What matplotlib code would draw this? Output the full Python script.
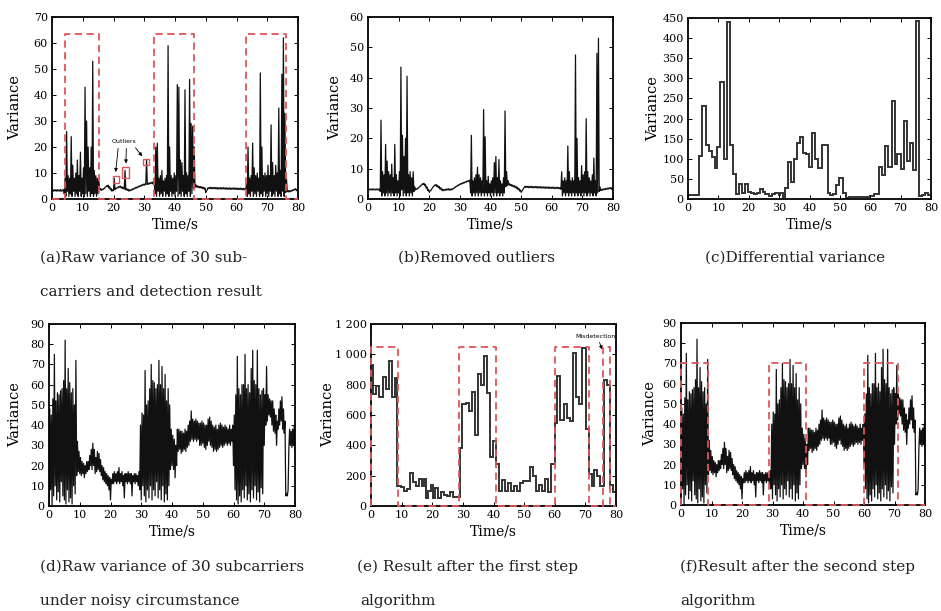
import matplotlib.pyplot as plt
import numpy as np
from matplotlib.patches import Rectangle

plt.rcParams['font.family'] = 'DejaVu Serif'

# ---- data ----
# (a) raw variance, low / high value every 0.5 s (0 ... 80 s)
lo_a = [3.0, 3.0, 3.1, 3.0, 3.1, 3.0, 3.0, 3.1, 2.0, 1.0,
        3, 1, 2, 1, 3, 1, 2, 1, 3, 1,
        2, 1, 2, 1, 3, 1, 2, 1, 2, 1,
        2, 3.5, 3.3, 3.5, 4.0, 4.6, 4.8, 4.2, 3.5, 3.0,
        3.2, 3.6, 4.0, 4.3, 4.5, 4.2, 4.0, 3.8, 3.5, 3.3,
        3.0, 3.2, 3.4, 3.7, 4.0, 4.2, 4.5, 4.7, 5.0, 5.2,
        5.3, 5.5, 5.6, 5.7, 5.9, 6.0, 5.5, 2, 1, 3,
        1, 2, 1, 3, 1, 2, 1, 3, 1, 2,
        1, 3, 1, 2, 1, 3, 1, 2, 1, 3,
        1, 2, 4, 4.5, 4.6, 4.4, 4.3, 4.2, 4.0, 3.8,
        2.5, 3.5, 4.0, 4.0, 3.9, 4.0, 3.9, 3.9, 3.8, 3.9,
        3.8, 3.9, 3.8, 3.8, 3.7, 3.8, 3.7, 3.7, 3.8, 3.7,
        3.7, 3.6, 3.7, 3.6, 3.6, 3.5, 3.5, 1, 2, 1,
        3, 1, 2, 1, 3, 1, 2, 1, 3, 1,
        2, 1, 3, 1, 2, 1, 3, 1, 2, 1,
        3, 1, 2.5, 2.8, 2.7, 2.8, 3.0, 3.3, 3.5, 3.2,
        3.0]
hi_a = [3.5, 3.6, 3.5, 3.6, 3.5, 3.6, 3.5, 3.6, 8, 26,
        9, 8, 24, 13, 8, 10, 15, 9, 18, 8,
        12, 43, 30, 20, 12, 20, 53, 11, 9, 8,
        7, 4.0, 3.8, 4.0, 4.5, 5.1, 5.3, 4.7, 4.0, 3.5,
        8, 4.1, 4.5, 4.8, 5.0, 4.7, 4.5, 11, 4.0, 3.8,
        3.5, 3.7, 3.9, 4.2, 4.5, 4.7, 5.0, 5.2, 5.5, 5.7,
        5.8, 15, 6.1, 6.2, 6.4, 6.5, 8, 20, 21.5, 8,
        9, 11, 7, 8, 9, 59, 20, 9, 8, 10,
        9, 44, 43, 15, 14, 9, 42, 10, 9, 46,
        29, 28, 20, 5.5, 5.1, 4.9, 4.8, 4.7, 4.5, 4.3,
        3.3, 4.3, 4.5, 4.5, 4.4, 4.5, 4.4, 4.4, 4.3, 4.4,
        4.3, 4.4, 4.3, 4.3, 4.2, 4.3, 4.2, 4.2, 4.3, 4.2,
        4.2, 4.1, 4.2, 4.1, 4.1, 4.0, 6, 20, 8, 9,
        21.5, 12, 9, 10, 8, 48.5, 20, 9, 10, 9,
        13, 9, 28.5, 14, 9, 13, 10, 35, 11, 48,
        62, 33, 8, 3.3, 3.2, 3.3, 3.5, 3.8, 4.0, 3.7,
        3.5]

# (b) after removing outliers
lo_b = [3.0, 3.0, 3.0, 3.0, 3.0, 3.0, 3.0, 3.0, 2.5, 1,
        2, 1, 2, 1, 2, 1, 2, 1, 2, 1,
        2, 1, 3, 1, 2, 1, 2, 1, 2, 1,
        2.5, 3.0, 3.2, 3.6, 4.1, 4.6, 4.8, 4.4, 3.6, 2.8,
        2.2, 2.8, 3.6, 4.2, 4.4, 4.1, 3.7, 3.3, 2.9, 2.7,
        2.8, 2.9, 3.0, 2.9, 2.9, 3.1, 3.4, 3.8, 4.1, 4.4,
        4.7, 4.9, 5.1, 5.3, 5.5, 5.7, 5.8, 2, 1, 2,
        1, 2, 1, 2, 1, 2, 1, 2, 1, 2,
        1, 2, 1, 2, 1, 2, 1, 2, 1, 2,
        4, 4.5, 4.6, 4.4, 4.2, 4.0, 3.8, 3.5, 3.1, 2.6,
        2.2, 3.0, 3.8, 3.8, 3.8, 3.7, 3.8, 3.7, 3.7, 3.7,
        3.7, 3.6, 3.7, 3.6, 3.6, 3.6, 3.5, 3.6, 3.5, 3.5,
        3.5, 3.5, 3.4, 3.5, 3.4, 3.4, 3.2, 1, 2, 1,
        2, 1, 2, 1, 2, 1, 2, 1, 2, 1,
        2, 1, 2, 1, 2, 1, 2, 1, 2, 1,
        2, 2.5, 2.8, 2.9, 3.0, 3.1, 3.2, 3.3, 3.4, 3.2,
        3.0]
hi_b = [3.3, 3.3, 3.3, 3.3, 3.3, 3.3, 3.3, 3.3, 26, 9,
        8, 18, 12.5, 9, 8, 11.5, 7, 18, 8, 6,
        9, 43.5, 21, 14, 20, 40.5, 8, 9, 7, 9,
        4, 3.4, 3.6, 4.0, 4.5, 5.0, 5.2, 4.8, 4.0, 3.2,
        2.6, 3.2, 4.0, 4.6, 4.8, 4.5, 4.1, 3.7, 3.3, 3.1,
        3.2, 3.3, 3.4, 3.3, 3.3, 3.5, 3.8, 4.2, 4.5, 4.8,
        5.1, 5.3, 5.5, 5.7, 5.9, 6.1, 6.2, 21, 6, 7,
        8, 10.5, 8, 7, 6, 29.5, 20.5, 6, 7.5, 5,
        6, 7, 12, 14, 7, 13, 6, 5, 7, 29,
        9, 6, 5.0, 4.8, 4.6, 4.4, 4.2, 3.9, 3.5, 3.0,
        2.6, 3.4, 4.2, 4.2, 4.2, 4.1, 4.2, 4.1, 4.1, 4.1,
        4.1, 4.0, 4.1, 4.0, 4.0, 4.0, 3.9, 4.0, 3.9, 3.9,
        3.9, 3.9, 3.8, 3.9, 3.8, 3.8, 9, 6, 7, 6,
        17.5, 9, 6, 7, 6, 47.5, 20, 7, 6, 11,
        8, 9, 26.5, 9, 7, 6, 8, 13.5, 6, 48,
        53, 4, 3.2, 3.3, 3.4, 3.5, 3.6, 3.7, 3.8, 3.6,
        3.4]

# (c) differential variance (step values between edges)
edges_c = [0, 3.7, 4.7, 5.9, 6.9, 7.9, 9.0, 9.7, 10.6, 11.9,
           12.8, 13.9, 14.8, 15.8, 16.7, 17.9, 18.8, 19.8, 20.6, 21.8,
           22.8, 23.8, 24.8, 25.5, 26.8, 27.7, 28.8, 29.9, 30.4, 31.3,
           32.0, 32.9, 33.9, 34.9, 35.9, 36.8, 37.8, 38.7, 39.8, 40.8,
           41.9, 42.8, 44.1, 46.0, 46.9, 47.8, 48.8, 49.8, 50.9, 51.9,
           52.9, 58.9, 60.0, 61.1, 62.9, 64.0, 65.0, 66.0, 67.0, 68.0,
           68.9, 70.0, 71.0, 72.0, 73.1, 74.1, 75.1, 76.1, 77.1, 77.9,
           78.9, 80]
vals_c = [10, 108, 230, 135, 120, 105, 77, 130, 290, 100,
          440, 135, 63, 12, 38, 15, 38, 18, 14, 12,
          15, 25, 18, 12, 8, 12, 14, 10, 15, 5,
          28, 92, 42, 100, 140, 155, 115, 113, 80, 165,
          100, 78, 135, 15, 10, 12, 35, 52, 15, 3,
          5, 6, 8, 12, 80, 60, 133, 80, 243, 88,
          113, 75, 193, 95, 138, 73, 442, 8, 10, 16,
          10]

# (d)/(f) raw variance under noise, low / high every 0.5 s
lo_d = [2, 8, 0.5, 5, 10, 3, 7, 2, 12, 5,
        3, 1, 8, 2, 4, 1, 10, 6, 15, 17,
        16, 15, 16, 14, 16, 17, 18, 20, 18, 20,
        16, 17, 18, 17, 15, 13, 12, 11, 10, 8,
        3, 11, 11, 12, 11, 12, 11, 12, 10, 4,
        12, 11, 12, 11, 5, 12, 11, 12, 10, 8,
        3, 10, 5, 2, 8, 4, 10, 3, 8, 5,
        12, 4, 8, 3, 10, 2, 6, 3, 10, 18,
        20, 18, 14, 20, 27, 28, 26, 27, 28, 27,
        29, 30, 32, 33, 32, 33, 32, 33, 30, 30,
        31, 29, 28, 30, 32, 30, 29, 27, 28, 27,
        28, 29, 30, 29, 30, 31, 30, 31, 30, 32,
        20, 8, 3, 1, 5, 2, 8, 4, 10, 3,
        6, 2, 8, 4, 10, 3, 7, 2, 9, 6,
        30, 40, 42, 45, 44, 40, 37, 36, 30, 38,
        40, 42, 38, 36, 5, 5, 28, 30, 29, 30,
        28]
hi_d = [48, 45, 53, 75, 52, 56, 55, 57, 58, 62,
        82, 58, 68, 61, 56, 58, 50, 72, 32, 27,
        24, 22, 21, 20, 22, 22, 25, 28, 31, 28,
        24, 27, 26, 23, 20, 19, 17, 16, 15, 14,
        13, 16, 17, 16, 17, 19, 16, 17, 15, 16,
        16, 17, 16, 16, 15, 16, 16, 15, 17, 40,
        46, 45, 67, 50, 52, 58, 70, 62, 61, 58,
        60, 72, 60, 69, 58, 65, 52, 58, 50, 38,
        35, 33, 30, 38, 38, 37, 37, 36, 38, 37,
        40, 42, 47, 43, 42, 43, 42, 41, 41, 42,
        41, 40, 40, 43, 44, 42, 40, 39, 40, 38,
        40, 41, 40, 39, 40, 39, 38, 40, 38, 40,
        45, 55, 74, 58, 55, 60, 60, 75, 58, 60,
        56, 68, 77, 62, 60, 77, 58, 55, 57, 58,
        55, 69, 55, 53, 52, 52, 48, 45, 42, 48,
        52, 54, 48, 42, 6, 8, 38, 37, 38, 40,
        37]

# (e) result after first step
edges_e = [0, 0.65, 1.7, 2.7, 3.8, 4.9, 6.0, 7.0, 7.9, 8.6,
           9.7, 10.8, 11.6, 12.7, 13.7, 14.7, 15.7, 16.5, 17.2, 17.8,
           18.7, 19.5, 20.2, 21.0, 21.9, 22.7, 23.8, 24.9, 25.9, 26.9,
           28.9, 29.6, 31.0, 31.9, 32.9, 33.8, 34.8, 35.8, 36.8, 37.9,
           38.9, 39.7, 40.7, 41.7, 42.8, 43.7, 44.7, 45.7, 46.8, 47.7,
           48.6, 49.7, 51.9, 53.0, 53.9, 54.8, 55.8, 56.9, 57.8, 58.9,
           60.1, 60.7, 61.7, 62.9, 63.9, 65.0, 66.1, 66.9, 67.9, 69.0,
           70.1, 71.1, 72.1, 72.7, 73.9, 74.7, 76.2, 77.0, 78.0, 78.9,
           80]
vals_e = [930, 740, 790, 720, 850, 770, 955, 720, 845, 130,
          125, 100, 110, 220, 160, 135, 180, 130, 175, 50,
          100, 140, 50, 120, 50, 90, 75, 65, 90, 60,
          380, 670, 680, 625, 750, 470, 870, 800, 990, 745,
          320, 430, 280, 100, 170, 100, 150, 100, 130, 100,
          150, 165, 260, 200, 100, 140, 100, 175, 95, 280,
          550, 860, 570, 670, 580, 560, 1010, 720, 670, 1040,
          505, 210, 130, 240, 200, 130, 830, 800, 140, 90]

# detection windows (start, end) and box heights
det_a = [(4.3, 15.3), (33.2, 46.3), (63.1, 76.0)]
det_e = [(0, 8.8), (28.8, 40.7), (60.0, 71.2), (75.8, 78.0)]
det_f = [(0, 8.7), (28.9, 40.9), (59.9, 71.1)]
lvl_a, lvl_e, lvl_f = 63.4, 1050, 70

outlier_boxes = [(19.7, 6.3, 2.1, 2.7), (22.9, 7.9, 2.1, 4.3), (29.5, 12.9, 1.9, 2.5)]
outlier_arrows = [((21.6, 20.5), (20.6, 9.3)), ((24.2, 20.5), (24.0, 12.6)),
                  ((26.6, 20.5), (29.9, 15.6))]

captions = [
    (40, 258, '(a)Raw variance of 30 sub-'),
    (40, 292, 'carriers and detection result'),
    (398, 258, '(b)Removed outliers'),
    (705, 258, '(c)Differential variance'),
    (40, 567, '(d)Raw variance of 30 subcarriers'),
    (40, 601, 'under noisy circumstance'),
    (357, 567, '(e) Result after the first step'),
    (360, 601, 'algorithm'),
    (680, 567, '(f)Result after the second step'),
    (680, 601, 'algorithm'),
]

W, H = 941, 611
RED = '#e0555b'


def px_box(l, r, t, b):
    return [l / W, (H - b) / H, (r - l) / W, (b - t) / H]


def zigzag(lo, hi):
    t = np.arange(len(lo)) * 0.5
    x = np.column_stack([t, t + 0.25]).ravel()
    y = np.column_stack([lo, hi]).ravel()
    return x, y


def det_path(intervals, level):
    xs, ys = [0], [0]
    for s, e in intervals:
        xs += [s, s, e, e]
        ys += [0, level, level, 0]
    xs.append(80)
    ys.append(0)
    return xs, ys


def setup(ax, ymax, ystep, ylab_off, thousands=False):
    ax.set_xlim(0, 80)
    ax.set_ylim(0, ymax)
    ax.set_xticks(np.arange(0, 81, 10))
    yt = np.arange(0, ymax + 1, ystep)
    ax.set_yticks(yt)
    if thousands:
        ax.set_yticklabels([f'{v:,}'.replace(',', ' ') for v in yt])
    ax.tick_params(direction='in', top=True, right=True, length=3, width=0.7,
                   labelsize=8, pad=3)
    for s in ax.spines.values():
        s.set_linewidth(1.3)
    ax.set_xlabel('Time/s', fontsize=10, labelpad=3)
    ax.set_ylabel('Variance', fontsize=10.5)
    w_px = ax.get_position().width * W
    ax.yaxis.set_label_coords(-ylab_off / w_px, 0.5)


def draw_det(ax, intervals, level):
    xs, ys = det_path(intervals, level)
    ax.plot(xs, ys, color=RED, lw=1.3, ls=(0, (4, 2.5)), zorder=5, clip_on=False)


fig = plt.figure(figsize=(9.41, 6.11), dpi=100)

ax_a = fig.add_axes(px_box(52, 298, 17, 199))
ax_b = fig.add_axes(px_box(368, 613, 17, 199))
ax_c = fig.add_axes(px_box(688, 931, 18, 199))
ax_d = fig.add_axes(px_box(49, 295, 324, 506))
ax_e = fig.add_axes(px_box(371, 616, 324, 506))
ax_f = fig.add_axes(px_box(681, 925, 323, 505))

# (a)
x, y = zigzag(lo_a, hi_a)
ax_a.plot(x, y, color='#111111', lw=0.9)
draw_det(ax_a, det_a, lvl_a)
for bx, by, bw, bh in outlier_boxes:
    ax_a.add_patch(Rectangle((bx, by), bw, bh, fill=False, ec=RED, lw=1.0, zorder=6))
for start, end in outlier_arrows:
    ax_a.annotate('', xy=end, xytext=start,
                  arrowprops=dict(arrowstyle='-|>', color='black', lw=0.6, mutation_scale=5))
ax_a.text(23.4, 22.3, 'Outliers', fontsize=4.5, family='DejaVu Sans', ha='center', va='center')
setup(ax_a, 70, 10, 30)

# (b)
x, y = zigzag(lo_b, hi_b)
ax_b.plot(x, y, color='#111111', lw=0.9)
setup(ax_b, 60, 10, 26)

# (c)
ax_c.stairs(vals_c, edges_c, baseline=None, color='#333333', lw=1.4)
setup(ax_c, 450, 50, 28)

# (d)
x, y = zigzag(lo_d, hi_d)
ax_d.plot(x, y, color='#111111', lw=0.9)
setup(ax_d, 90, 10, 27)

# (e)
ax_e.stairs(vals_e, edges_e, baseline=None, color='#333333', lw=1.4)
draw_det(ax_e, det_e, lvl_e)
ax_e.annotate('', xy=(75.8, 1015), xytext=(74.3, 1095),
              arrowprops=dict(arrowstyle='-|>', color='black', lw=0.6, mutation_scale=5))
ax_e.text(73.4, 1120, 'Misdetection', fontsize=4.5, family='DejaVu Sans', ha='center', va='center')
setup(ax_e, 1200, 200, 36, thousands=True)

# (f)
x, y = zigzag(lo_d, hi_d)
ax_f.plot(x, y, color='#111111', lw=0.9)
draw_det(ax_f, det_f, lvl_f)
setup(ax_f, 90, 10, 24)

for cx, cy, txt in captions:
    fig.text(cx / W, 1 - cy / H, txt, fontsize=11, ha='left', va='center', color='#222222')

fig.savefig('out.png', dpi=100)
